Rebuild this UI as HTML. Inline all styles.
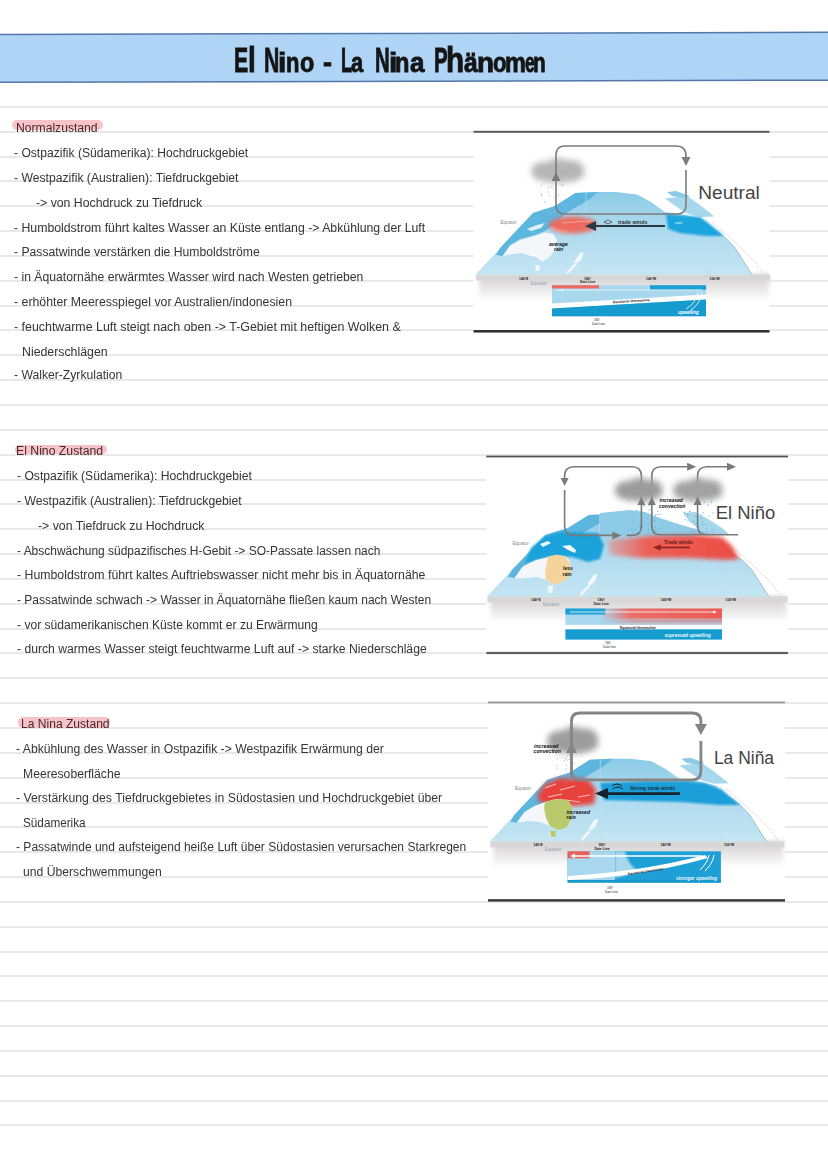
<!DOCTYPE html>
<html><head><meta charset="utf-8"><style>
html,body{margin:0;padding:0}
body{width:828px;height:1171px;position:relative;overflow:hidden;background:#fff;font-family:"Liberation Sans",sans-serif}
.rl{position:absolute;left:0;width:828px;height:2px;background:#e9e9e9}
.t{position:absolute;transform-origin:0 0;font-size:12px;line-height:14px;white-space:pre;color:#353535}
.t .hl{color:#47282b}
.hlb{position:absolute;background:#f6c4c8;border-radius:5px;filter:blur(0.7px)}
#banner{position:absolute;left:0;top:0}
.tg{position:absolute;font-weight:700;line-height:40px;color:#141414;-webkit-text-stroke:0.9px #141414;transform-origin:0 0;white-space:pre}
#title{position:absolute;left:234.2px;top:41.8px;font-weight:700;font-size:35px;line-height:40px;letter-spacing:1.5px;color:#141414;transform-origin:0 0;transform:scaleX(0.619);white-space:pre}
#diag{position:absolute;left:0;top:0}
</style></head><body>
<div class="rl" style="top:105.8px"></div><div class="rl" style="top:130.6px"></div><div class="rl" style="top:155.5px"></div><div class="rl" style="top:180.3px"></div><div class="rl" style="top:205.2px"></div><div class="rl" style="top:230.0px"></div><div class="rl" style="top:254.9px"></div><div class="rl" style="top:279.7px"></div><div class="rl" style="top:304.6px"></div><div class="rl" style="top:329.4px"></div><div class="rl" style="top:354.2px"></div><div class="rl" style="top:379.1px"></div><div class="rl" style="top:403.9px"></div><div class="rl" style="top:428.8px"></div><div class="rl" style="top:453.6px"></div><div class="rl" style="top:478.5px"></div><div class="rl" style="top:503.3px"></div><div class="rl" style="top:528.2px"></div><div class="rl" style="top:553.0px"></div><div class="rl" style="top:577.9px"></div><div class="rl" style="top:602.7px"></div><div class="rl" style="top:627.5px"></div><div class="rl" style="top:652.4px"></div><div class="rl" style="top:677.2px"></div><div class="rl" style="top:702.1px"></div><div class="rl" style="top:726.9px"></div><div class="rl" style="top:751.8px"></div><div class="rl" style="top:776.6px"></div><div class="rl" style="top:801.5px"></div><div class="rl" style="top:826.3px"></div><div class="rl" style="top:851.1px"></div><div class="rl" style="top:876.0px"></div><div class="rl" style="top:900.8px"></div><div class="rl" style="top:925.7px"></div><div class="rl" style="top:950.5px"></div><div class="rl" style="top:975.4px"></div><div class="rl" style="top:1000.2px"></div><div class="rl" style="top:1025.1px"></div><div class="rl" style="top:1049.9px"></div><div class="rl" style="top:1074.8px"></div><div class="rl" style="top:1099.6px"></div><div class="rl" style="top:1124.4px"></div>
<svg id="banner" width="828" height="100" viewBox="0 0 828 100">
<polygon points="0,34.5 828,32.3 828,80.2 0,82.3" fill="#b0d4f5"/>
<line x1="0" y1="34.5" x2="828" y2="32.3" stroke="#5277a8" stroke-width="1.5"/>
<line x1="0" y1="82.3" x2="828" y2="80.2" stroke="#5277a8" stroke-width="1.5"/>
</svg>
<span class="tg" style="left:234.19px;top:40px;font-size:35px;transform:scaleX(0.605)">E</span><span class="tg" style="left:247.65px;top:40px;font-size:35px;transform:scaleX(0.800)">l</span><span class="tg" style="left:263.79px;top:40px;font-size:35px;transform:scaleX(0.605)">N</span><span class="tg" style="left:277.55px;top:42px;font-size:28.5px;transform:scaleX(1.050)">i</span><span class="tg" style="left:286.46px;top:42px;font-size:28.5px;transform:scaleX(0.771)">n</span><span class="tg" style="left:300.18px;top:42px;font-size:28.5px;transform:scaleX(0.820)">o</span><span class="tg" style="left:323.36px;top:42px;font-size:28.5px;transform:scaleX(0.943)">-</span><span class="tg" style="left:340.67px;top:40px;font-size:35px;transform:scaleX(0.517)">L</span><span class="tg" style="left:351.23px;top:42px;font-size:28.5px;transform:scaleX(0.767)">a</span><span class="tg" style="left:374.64px;top:40px;font-size:35px;transform:scaleX(0.581)">N</span><span class="tg" style="left:388.55px;top:42px;font-size:28.5px;transform:scaleX(1.050)">i</span><span class="tg" style="left:395.14px;top:42px;font-size:28.5px;transform:scaleX(0.829)">n</span><span class="tg" style="left:409.69px;top:42px;font-size:28.5px;transform:scaleX(0.913)">a</span><span class="tg" style="left:433.83px;top:40px;font-size:35px;transform:scaleX(0.585)">P</span><span class="tg" style="left:445.81px;top:40px;font-size:35px;transform:scaleX(0.847)">h</span><span class="tg" style="left:463.93px;top:42px;font-size:28.5px;transform:scaleX(0.867)">ä</span><span class="tg" style="left:476.64px;top:42px;font-size:28.5px;transform:scaleX(0.979)">n</span><span class="tg" style="left:493.03px;top:42px;font-size:28.5px;transform:scaleX(0.773)">o</span><span class="tg" style="left:505.15px;top:42px;font-size:28.5px;transform:scaleX(0.823)">m</span><span class="tg" style="left:525.09px;top:42px;font-size:28.5px;transform:scaleX(0.614)">e</span><span class="tg" style="left:532.84px;top:42px;font-size:28.5px;transform:scaleX(0.729)">n</span>
<div class="hlb" style="left:11.7px;top:120.3px;width:91.6px;height:10px"></div>
<div class="hlb" style="left:15px;top:444.6px;width:92.3px;height:9.8px"></div>
<div class="hlb" style="left:17.8px;top:717.2px;width:92.2px;height:10.6px"></div>
<div class="t" style="left:15.6px;top:121.4px;transform:scaleX(1.0113)"><span class="hl">Normalzustand</span></div><div class="t" style="left:14.4px;top:146.3px;transform:scaleX(1.0086)"><span>- Ostpazifik (Südamerika): Hochdruckgebiet</span></div><div class="t" style="left:14.4px;top:171.1px;transform:scaleX(1.0149)"><span>- Westpazifik (Australien): Tiefdruckgebiet</span></div><div class="t" style="left:35.5px;top:195.9px;transform:scaleX(1.0222)"><span>-&gt; von Hochdruck zu Tiefdruck</span></div><div class="t" style="left:14.4px;top:220.8px;transform:scaleX(1.0226)"><span>- Humboldstrom führt kaltes Wasser an Küste entlang -&gt; Abkühlung der Luft</span></div><div class="t" style="left:14.4px;top:245.0px;transform:scaleX(1.0149)"><span>- Passatwinde verstärken die Humboldströme</span></div><div class="t" style="left:14.4px;top:270.4px;transform:scaleX(1.0172)"><span>- in Äquatornähe erwärmtes Wasser wird nach Westen getrieben</span></div><div class="t" style="left:14.4px;top:295.2px;transform:scaleX(1.0267)"><span>- erhöhter Meeresspiegel vor Australien/indonesien</span></div><div class="t" style="left:14.4px;top:320.1px;transform:scaleX(1.0338)"><span>- feuchtwarme Luft steigt nach oben -&gt; T-Gebiet mit heftigen Wolken &amp;</span></div><div class="t" style="left:21.6px;top:344.9px;transform:scaleX(1.0269)"><span>Niederschlägen</span></div><div class="t" style="left:14.4px;top:368.2px;transform:scaleX(1.0133)"><span>- Walker-Zyrkulation</span></div><div class="t" style="left:16.4px;top:444.2px;transform:scaleX(1.0202)"><span class="hl">El Nino Zustand</span></div><div class="t" style="left:16.6px;top:469.1px;transform:scaleX(1.0116)"><span>- Ostpazifik (Südamerika): Hochdruckgebiet</span></div><div class="t" style="left:16.6px;top:493.9px;transform:scaleX(1.0154)"><span>- Westpazifik (Australien): Tiefdruckgebiet</span></div><div class="t" style="left:38.0px;top:518.7px;transform:scaleX(1.0248)"><span>-&gt; von Tiefdruck zu Hochdruck</span></div><div class="t" style="left:16.6px;top:543.5px;transform:scaleX(0.9967)"><span>- Abschwächung südpazifisches H-Gebit -&gt; SO-Passate lassen nach</span></div><div class="t" style="left:16.6px;top:568.4px;transform:scaleX(1.0257)"><span>- Humboldstrom führt kaltes Auftriebswasser nicht mehr bis in Äquatornähe</span></div><div class="t" style="left:16.6px;top:593.2px;transform:scaleX(1.0024)"><span>- Passatwinde schwach -&gt; Wasser in Äquatornähe fließen kaum nach Westen</span></div><div class="t" style="left:16.6px;top:618.0px;transform:scaleX(1.0067)"><span>- vor südamerikanischen Küste kommt er zu Erwärmung</span></div><div class="t" style="left:16.6px;top:642.3px;transform:scaleX(1.0139)"><span>- durch warmes Wasser steigt feuchtwarme Luft auf -&gt; starke Niederschläge</span></div><div class="t" style="left:20.6px;top:717.3px;transform:scaleX(1.0058)"><span class="hl">La Nina Zustand</span></div><div class="t" style="left:15.8px;top:741.7px;transform:scaleX(1.0147)"><span>- Abkühlung des Wasser in Ostpazifik -&gt; Westpazifik Erwärmung der</span></div><div class="t" style="left:22.8px;top:766.6px;transform:scaleX(1.0148)"><span>Meeresoberfläche</span></div><div class="t" style="left:15.8px;top:791.4px;transform:scaleX(1.0206)"><span>- Verstärkung des Tiefdruckgebietes in Südostasien und Hochdruckgebiet über</span></div><div class="t" style="left:22.8px;top:816.2px;transform:scaleX(0.9780)"><span>Südamerika</span></div><div class="t" style="left:15.8px;top:840.3px;transform:scaleX(1.0029)"><span>- Passatwinde und aufsteigend heiße Luft über Südostasien verursachen Starkregen</span></div><div class="t" style="left:22.8px;top:864.7px;transform:scaleX(1.0147)"><span>und Überschwemmungen</span></div>
<svg id="diag" width="828" height="1171" viewBox="0 0 828 1171">
<defs>
<filter id="b05" x="-20%" y="-20%" width="140%" height="140%"><feGaussianBlur stdDeviation="0.5"/></filter>
<filter id="b1" x="-30%" y="-30%" width="160%" height="160%"><feGaussianBlur stdDeviation="1"/></filter>
<filter id="b15" x="-30%" y="-30%" width="160%" height="160%"><feGaussianBlur stdDeviation="1.5"/></filter>
<filter id="b2" x="-40%" y="-40%" width="180%" height="180%"><feGaussianBlur stdDeviation="2"/></filter>
<filter id="b3" x="-50%" y="-50%" width="200%" height="200%"><feGaussianBlur stdDeviation="3"/></filter>
<filter id="b4" x="-50%" y="-50%" width="200%" height="200%"><feGaussianBlur stdDeviation="4"/></filter>
<filter id="b5" x="-60%" y="-60%" width="220%" height="220%"><feGaussianBlur stdDeviation="5"/></filter>
<linearGradient id="ocean" x1="0" y1="0" x2="0" y2="1">
 <stop offset="0" stop-color="#8ccbe7"/><stop offset="0.4" stop-color="#acd9ee"/><stop offset="1" stop-color="#c4e5f3"/>
</linearGradient>
<linearGradient id="shadow" x1="0" y1="0" x2="0" y2="1">
 <stop offset="0" stop-color="#d5d3d4"/><stop offset="0.3" stop-color="#dddbdc"/><stop offset="0.65" stop-color="#efeeee"/><stop offset="1" stop-color="#ffffff"/>
</linearGradient>
<linearGradient id="redR" x1="0" y1="0" x2="1" y2="0">
 <stop offset="0" stop-color="#ef7a70" stop-opacity="0.5"/><stop offset="0.3" stop-color="#ec5f55"/><stop offset="1" stop-color="#ea4d45"/>
</linearGradient>
<linearGradient id="xsRed" x1="0" y1="0" x2="1" y2="0">
 <stop offset="0" stop-color="#ef6a60" stop-opacity="0"/><stop offset="0.25" stop-color="#ef6a60" stop-opacity="0.95"/><stop offset="1" stop-color="#ee5a52"/>
</linearGradient>
<g id="basemap">
 <rect x="479" y="274" width="290" height="27" fill="url(#shadow)" filter="url(#b2)"/>
 <rect x="476" y="274.5" width="294" height="6" fill="#d9d6d7"/>
 <path d="M475.4,274.7 L533,213 L555,206 L575.5,193 L596,192 L616,192 L637,194.5 L651,202 L665,212 L684,215 L702,219 L716,231 L726,238.3 L735,247.6 L752,274.7 Z" fill="url(#ocean)"/>
 <path d="M500,248 L533,213 L555,206 L575.5,193 L598,192 L590,199 L578,206 L566,213 L556,224 L545,231 L535,235 L520,239 L510,245 L502.6,256 L496,255 Z" fill="#5cb6de"/>
 <path d="M502.6,256 L510,246 L520.7,240 L535,236 L545,232.6 L553,233.8 L557,240 L554.5,250.7 L548.5,258 L542.5,261.6 L535.2,256.8 L529,255.5 L522,253 L511,254.3 Z" fill="#f3f7f9"/>
 <path d="M535,265 L540,265.5 L539.5,271 L536,271 Z" fill="#f3f7f9"/>
 <path d="M550,227 L558,225 L566,229 L569,233 L562,232 L555,230 Z" fill="#f7f9fa"/>
 <path d="M527,229 L537,225 L545,223 L541,228 L531,231 Z" fill="#e2f1f8"/>
 <path d="M580,253 L584,252 L581,260 L576,264 L574,262 Z" fill="#f3f7f9"/>
 <path d="M574,264 L577,264 L570,272 L566,275 L568,270 Z" fill="#f3f7f9"/>
 <path d="M716,231 L726,238.3 L735,247.6 L752,274.7" stroke="#8fa9b5" stroke-width="0.7" fill="none"/>
 <path d="M712,222 L735,242 L755,262 L763,273" stroke="#cbbfb5" stroke-width="0.7" fill="none" stroke-dasharray="2 1.5"/>
 <path d="M586,192 L586,275 M707,219 L707,290" stroke="#c2dde9" stroke-width="0.6"/>
 <g fill="#222" font-family="Liberation Sans" font-size="3.4" font-weight="700">
  <text x="519" y="279.5">140°E</text><text x="584" y="279.5">180°</text><text x="580" y="283">Date Line</text><text x="646" y="279.5">140°W</text><text x="709.5" y="279.5">100°W</text>
 </g>
 <text x="530.5" y="284.5" fill="#9aa3a8" font-family="Liberation Sans" font-size="4.6">Equator</text>
 <text x="500.5" y="223.5" fill="#8a8a8a" font-family="Liberation Sans" font-size="4.6">Equator</text>
</g>
<g id="na">
 <path d="M665,198.6 L687,196 L700,205 L714.4,216.4 L700,217 L686,213 L674,205 Z" fill="#a6d7ed"/>
 <path d="M667,192 L676,191 L690,196 L684,198 L672,196 Z" fill="#8ccbe6"/>
</g>
</defs>
<rect x="473.5" y="131" width="296.0" height="201.5" fill="#fff"/>
<use href="#basemap"/>
<use href="#na"/>
<ellipse cx="573" cy="225" rx="24" ry="8.5" fill="#ec6a5f" filter="url(#b2)"/>
<path d="M562,223 L590,221" stroke="#f6a59c" stroke-width="1.2" filter="url(#b05)"/>
<path d="M666,214 L700,217 L712,226 L724,236 L706,236 L680,233 L668,229 Z" fill="#1ea4dc" filter="url(#b1)"/>
<g fill="#9fb8c6">
<circle cx="549.9" cy="212.4" r="0.6"/>
<circle cx="565.7" cy="203.7" r="0.6"/>
<circle cx="560.2" cy="213.3" r="0.6"/>
<circle cx="563.2" cy="184.6" r="0.6"/>
<circle cx="555.6" cy="210.6" r="0.6"/>
<circle cx="541.6" cy="195.4" r="0.6"/>
<circle cx="549.8" cy="195.8" r="0.6"/>
<circle cx="544.3" cy="202.2" r="0.6"/>
<circle cx="565.5" cy="209.4" r="0.6"/>
<circle cx="554.7" cy="211.7" r="0.6"/>
<circle cx="551.7" cy="186.9" r="0.6"/>
<circle cx="554.2" cy="212.9" r="0.6"/>
<circle cx="541.1" cy="194.1" r="0.6"/>
<circle cx="566.6" cy="206.1" r="0.6"/>
<circle cx="554.9" cy="197.2" r="0.6"/>
<circle cx="546.8" cy="210.6" r="0.6"/>
<circle cx="563.4" cy="203.8" r="0.6"/>
<circle cx="550.5" cy="213.3" r="0.6"/>
<circle cx="559.3" cy="213.2" r="0.6"/>
<circle cx="548.2" cy="187.2" r="0.6"/>
<circle cx="548.3" cy="191.9" r="0.6"/>
<circle cx="553.3" cy="189.1" r="0.6"/>
<circle cx="548.5" cy="209.2" r="0.6"/>
<circle cx="561.8" cy="185.4" r="0.6"/>
<circle cx="541.6" cy="185.2" r="0.6"/>
<circle cx="541.1" cy="210.2" r="0.6"/>
<circle cx="558.5" cy="194.9" r="0.6"/>
</g>
<g filter="url(#b3)" opacity="0.9"><ellipse cx="558" cy="173.98" rx="26.4" ry="8.7" fill="#aeaeae"/><ellipse cx="544.8" cy="170.5" rx="13.2" ry="8.7" fill="#aeaeae"/><ellipse cx="570.0" cy="169.34" rx="13.8" ry="9.28" fill="#aeaeae"/><ellipse cx="558" cy="166.44" rx="12.0" ry="8.120000000000001" fill="#aeaeae"/></g>
<path d="M556,206 L556,155 Q556,146 565,146 L676,146 Q686,146 686,156 L686,160" stroke="#7c7c7c" stroke-width="1.6" fill="none"/>
<path d="M686,170 L686,205 Q686,214 677,214 L565,214 Q556,214 556,206" stroke="#7c7c7c" stroke-width="1.6" fill="none"/>
<path d="M681.5,157 L690.5,157 L686,166 Z" fill="#7c7c7c"/>
<path d="M551.5,181 L560.5,181 L556,172 Z" fill="#7c7c7c"/>
<path d="M594,226 L665,226" stroke="#2b3944" stroke-width="1.8"/>
<path d="M596,221.0 L596,231.0 L585,226 Z" fill="#2b3944"/>
<text x="618" y="223.8" font-family="Liberation Sans" font-size="5.3" font-weight="700" fill="#333">trade winds</text>
<path d="M604,222 L608,220 L612,222 L608,224 Z" stroke="#333" stroke-width="0.7" fill="none"/>
<text x="549" y="245.5" font-family="Liberation Sans" font-size="5" font-weight="700" font-style="italic" fill="#111">average</text>
<text x="554" y="251" font-family="Liberation Sans" font-size="5" font-weight="700" font-style="italic" fill="#111">rain</text>
<text x="675" y="224" font-family="Liberation Sans" font-size="3.5" font-weight="700" fill="#bfe6f7">cool</text>
<rect x="552" y="285.2" width="154" height="31.1" fill="#a9d8ee"/>
<rect x="552" y="285.2" width="47" height="3.3" fill="#ec6a62"/>
<rect x="650" y="285.2" width="56" height="4.5" fill="#1f9fd4" filter="url(#b05)"/>
<path d="M552,303.5 L706,294.5 L706,299.5 L552,308.5 Z" fill="#fff"/>
<path d="M552,308.5 L706,299.5 L706,316.3 L552,316.3 Z" fill="#169bcf"/>
<path d="M556,290 L702,290" stroke="#e8f5fb" stroke-width="0.8"/>
<circle cx="562" cy="290" r="1" fill="#fff"/>
<text x="678" y="313.5" font-family="Liberation Sans" font-size="4.5" font-weight="700" font-style="italic" fill="#fff">upwelling</text>
<text x="613" y="303.2" font-family="Liberation Sans" font-size="3.4" font-weight="700" fill="#222" transform="rotate(-3.3 613 303.2)">Equatorial thermocline</text>
<path d="M686,309 Q696,303 698,292 M691,310 Q700,304 702,292" stroke="#e6f4fa" stroke-width="0.9" fill="none"/>
<text x="594" y="321" font-family="Liberation Sans" font-size="3" font-weight="400" fill="#222">180°</text>
<text x="592" y="324.5" font-family="Liberation Sans" font-size="3" font-weight="400" fill="#222">Date Line</text>
<text x="698.3" y="198.6" font-family="Liberation Sans" font-size="18.3" font-weight="400" fill="#444" textLength="61.5" lengthAdjust="spacingAndGlyphs">Neutral</text>
<rect x="473.5" y="130.8" width="296.0" height="2" fill="#5a5a5a"/>
<rect x="473.5" y="330.05" width="296.0" height="2.5" fill="#2e2e2e"/>
<rect x="486.3" y="455.5" width="301.7" height="198.10000000000002" fill="#fff"/>
<use href="#basemap" transform="translate(1.892,321.9) scale(1.02,1)"/>
<path d="M600,513 L630,510 L645,512 L660,518 L675,523 L690,527.5 L705,531 L718,535 L600,536 Z" fill="#8ecbe7"/>
<path d="M683,513 L695,512 L708,519 L722,528 L730,535 L712,535 L700,530 L690,522 Z" fill="#a4d6ec"/>
<path d="M531,548 L545,536 L560,532 L598,533 L604,545 L600,559 L588,562 L572,557 L548,556 L533,561 L525,563 Z" fill="#1ea2da" filter="url(#b1)"/>
<path d="M540,544 L548,541 L551,543 L543,547 Z M562,546 L570,545 L576,550 L575,553 L568,550 Z" fill="#f4f9fb"/>
<path d="M608,540 L650,536 L700,535 L722,537 L732,546 L739,559 L725,560 L690,558 L640,558 L610,555 Z" fill="url(#redR)" filter="url(#b2)"/>
<path d="M514.5,578.3 L524,566 L536,560 L548.3,557.2 L556.8,554.8 L565.2,556.6 L570,563.8 L571.3,571 L567.6,578.3 L560.4,583.1 L553,584.3 L545.9,579.5 L536.2,577.1 L524.2,578.3 Z" fill="#f4f7f9"/>
<path d="M548,557 L556.8,554.8 L565.2,556.6 L570,563.8 L571.3,571 L567.6,578.3 L560.4,583.1 L553,584.3 L546,579.5 L545,570 L547,562 Z" fill="#f5d49c"/>
<path d="M548.3,586 L553,585.6 L552,592.5 L549,592 Z" fill="#f4f7f9"/>
<g fill="#6fa9c8">
<circle cx="652.5" cy="512.5" r="0.6"/>
<circle cx="653.7" cy="504.2" r="0.6"/>
<circle cx="660.0" cy="514.5" r="0.6"/>
<circle cx="653.6" cy="533.2" r="0.6"/>
<circle cx="650.9" cy="515.2" r="0.6"/>
<circle cx="631.7" cy="529.7" r="0.6"/>
<circle cx="652.2" cy="532.0" r="0.6"/>
<circle cx="647.4" cy="518.8" r="0.6"/>
<circle cx="635.6" cy="529.4" r="0.6"/>
<circle cx="632.8" cy="531.8" r="0.6"/>
<circle cx="639.9" cy="527.6" r="0.6"/>
<circle cx="632.7" cy="524.0" r="0.6"/>
<circle cx="642.2" cy="504.3" r="0.6"/>
<circle cx="628.3" cy="512.2" r="0.6"/>
<circle cx="655.6" cy="526.7" r="0.6"/>
<circle cx="655.5" cy="514.9" r="0.6"/>
<circle cx="631.7" cy="527.9" r="0.6"/>
<circle cx="649.3" cy="510.3" r="0.6"/>
<circle cx="650.2" cy="523.1" r="0.6"/>
<circle cx="644.8" cy="500.4" r="0.6"/>
<circle cx="654.7" cy="521.1" r="0.6"/>
<circle cx="636.4" cy="510.4" r="0.6"/>
<circle cx="655.6" cy="530.4" r="0.6"/>
<circle cx="648.7" cy="529.4" r="0.6"/>
<circle cx="649.7" cy="505.0" r="0.6"/>
<circle cx="628.4" cy="529.6" r="0.6"/>
<circle cx="659.3" cy="528.7" r="0.6"/>
<circle cx="654.5" cy="520.3" r="0.6"/>
<circle cx="648.0" cy="502.4" r="0.6"/>
<circle cx="657.3" cy="514.6" r="0.6"/>
<circle cx="644.1" cy="505.9" r="0.6"/>
<circle cx="653.4" cy="504.5" r="0.6"/>
<circle cx="654.7" cy="532.0" r="0.6"/>
<circle cx="645.8" cy="500.6" r="0.6"/>
<circle cx="661.8" cy="521.6" r="0.6"/>
<circle cx="640.6" cy="528.8" r="0.6"/>
<circle cx="632.8" cy="513.0" r="0.6"/>
<circle cx="632.1" cy="520.8" r="0.6"/>
<circle cx="657.8" cy="511.3" r="0.6"/>
<circle cx="628.4" cy="500.5" r="0.6"/>
<circle cx="648.9" cy="533.1" r="0.6"/>
</g>
<g fill="#6fa9c8">
<circle cx="705.7" cy="524.7" r="0.6"/>
<circle cx="702.7" cy="524.4" r="0.6"/>
<circle cx="688.0" cy="514.7" r="0.6"/>
<circle cx="706.4" cy="528.3" r="0.6"/>
<circle cx="689.7" cy="511.6" r="0.6"/>
<circle cx="701.8" cy="518.6" r="0.6"/>
<circle cx="693.5" cy="521.0" r="0.6"/>
<circle cx="709.2" cy="516.2" r="0.6"/>
<circle cx="703.1" cy="512.7" r="0.6"/>
<circle cx="712.4" cy="530.2" r="0.6"/>
<circle cx="713.0" cy="512.8" r="0.6"/>
<circle cx="684.4" cy="512.4" r="0.6"/>
<circle cx="697.2" cy="502.2" r="0.6"/>
<circle cx="702.8" cy="521.8" r="0.6"/>
<circle cx="694.3" cy="504.0" r="0.6"/>
<circle cx="699.5" cy="503.3" r="0.6"/>
<circle cx="704.2" cy="502.4" r="0.6"/>
<circle cx="706.5" cy="531.1" r="0.6"/>
<circle cx="691.5" cy="500.8" r="0.6"/>
<circle cx="690.2" cy="511.5" r="0.6"/>
<circle cx="701.1" cy="515.0" r="0.6"/>
<circle cx="692.2" cy="531.6" r="0.6"/>
<circle cx="712.0" cy="500.7" r="0.6"/>
<circle cx="700.0" cy="501.1" r="0.6"/>
<circle cx="697.2" cy="504.8" r="0.6"/>
<circle cx="695.9" cy="523.3" r="0.6"/>
<circle cx="698.1" cy="500.2" r="0.6"/>
<circle cx="687.3" cy="514.7" r="0.6"/>
<circle cx="708.3" cy="504.9" r="0.6"/>
<circle cx="690.6" cy="532.2" r="0.6"/>
<circle cx="695.9" cy="515.9" r="0.6"/>
<circle cx="685.1" cy="519.5" r="0.6"/>
<circle cx="687.9" cy="521.0" r="0.6"/>
<circle cx="684.1" cy="504.8" r="0.6"/>
<circle cx="711.4" cy="502.3" r="0.6"/>
<circle cx="695.4" cy="531.8" r="0.6"/>
</g>
<path d="M641.4,528 L641.4,476 Q641.4,466.7 632,466.7 L574,466.7 Q564.6,466.7 564.6,476 L564.6,479" stroke="#7a7a7a" stroke-width="1.6" fill="none"/>
<path d="M560.6,478 L568.6,478 L564.6,486 Z" fill="#7a7a7a"/>
<path d="M564.6,490 L564.6,526 Q564.6,535.4 574,535.4 L613,535.4" stroke="#7a7a7a" stroke-width="1.6" fill="none"/>
<path d="M612.4,531.4 L612.4,539.4 L621.4,535.4 Z" fill="#7a7a7a"/>
<path d="M626.7,535.4 L632,535.4 Q641.4,535.4 641.4,526" stroke="#7a7a7a" stroke-width="1.6" fill="none"/>
<path d="M651.8,528 L651.8,476 Q651.8,466.8 661,466.8 L688,466.8" stroke="#7a7a7a" stroke-width="1.6" fill="none"/>
<path d="M687.2,462.8 L687.2,470.8 L696.2,466.8 Z" fill="#7a7a7a"/>
<path d="M697.6,528 L697.6,476 Q697.6,466.8 707,466.8 L728,466.8" stroke="#7a7a7a" stroke-width="1.6" fill="none"/>
<path d="M727,462.8 L727,470.8 L736,466.8 Z" fill="#7a7a7a"/>
<path d="M651.8,526 Q651.8,534.7 660,534.7 L738,534.7 M697.6,526 Q697.6,534.7 706,534.7" stroke="#7a7a7a" stroke-width="1.6" fill="none"/>
<g filter="url(#b3)" opacity="1"><ellipse cx="639" cy="492.86" rx="23.76" ry="8.4" fill="#9c9c9c"/><ellipse cx="627.12" cy="489.5" rx="11.88" ry="8.4" fill="#9c9c9c"/><ellipse cx="649.8" cy="488.38" rx="12.42" ry="8.96" fill="#9c9c9c"/><ellipse cx="639" cy="485.58" rx="10.8" ry="7.840000000000001" fill="#9c9c9c"/></g>
<g filter="url(#b3)" opacity="1"><ellipse cx="698" cy="492.86" rx="24.64" ry="8.4" fill="#a2a2a2"/><ellipse cx="685.68" cy="489.5" rx="12.32" ry="8.4" fill="#a2a2a2"/><ellipse cx="709.2" cy="488.38" rx="12.88" ry="8.96" fill="#a2a2a2"/><ellipse cx="698" cy="485.58" rx="11.200000000000001" ry="7.840000000000001" fill="#a2a2a2"/></g>
<path d="M637.4,505 L645.4,505 L641.4,497 Z" fill="#7a7a7a"/>
<path d="M647.8,505 L655.8,505 L651.8,497 Z" fill="#7a7a7a"/>
<path d="M693.6,505 L701.6,505 L697.6,497 Z" fill="#7a7a7a"/>
<path d="M660,547.5 L690,547.5" stroke="#8e2323" stroke-width="1.6"/>
<path d="M660.7,544.5 L660.7,550.5 L652.7,547.5 Z" fill="#8e2323"/>
<text x="664" y="544" font-family="Liberation Sans" font-size="5" font-weight="700" fill="#6a1a1a">Trade winds</text>
<text x="659.5" y="501.5" font-family="Liberation Sans" font-size="5" font-weight="700" font-style="italic" fill="#111">increased</text>
<text x="659" y="507.8" font-family="Liberation Sans" font-size="5" font-weight="700" font-style="italic" fill="#111">convection</text>
<text x="563" y="570" font-family="Liberation Sans" font-size="5" font-weight="700" fill="#111">less</text>
<text x="562.5" y="575.5" font-family="Liberation Sans" font-size="5" font-weight="700" fill="#111">rain</text>
<rect x="565.4" y="608.5" width="156.6" height="16.3" fill="#a9d8ee"/>
<rect x="565.4" y="608.5" width="40" height="6" fill="#1ea2d8" filter="url(#b05)"/>
<rect x="600" y="608.5" width="122" height="10" fill="url(#xsRed)"/>
<rect x="600" y="618.5" width="122" height="4" fill="url(#xsRed)" opacity="0.5"/>
<rect x="600" y="622.5" width="122" height="2.3" fill="url(#xsRed)" opacity="0.2"/>
<path d="M570,612 L714,612" stroke="#f4fbff" stroke-width="0.8"/>
<path d="M713,610.5 L713,613.5 L717,612 Z" fill="#f4fbff"/>
<rect x="565.4" y="629.3" width="156.6" height="10.3" fill="#169ccf"/>
<text x="620" y="628.6" font-family="Liberation Sans" font-size="3.3" font-weight="700" fill="#222">Equatorial thermocline</text>
<text x="664.5" y="637" font-family="Liberation Sans" font-size="4.7" font-weight="700" font-style="italic" fill="#e8f6fc">supressed upwelling</text>
<text x="605" y="644" font-family="Liberation Sans" font-size="3" font-weight="400" fill="#222">180°</text>
<text x="603" y="647.5" font-family="Liberation Sans" font-size="3" font-weight="400" fill="#222">Date Line</text>
<text x="715.7" y="519" font-family="Liberation Sans" font-size="18.3" font-weight="400" fill="#444" textLength="59.5" lengthAdjust="spacingAndGlyphs">El Niño</text>
<rect x="486.3" y="455.6" width="301.7" height="1.8" fill="#505050"/>
<rect x="486.3" y="651.9" width="301.7" height="2.2" fill="#5e5e5e"/>
<rect x="488" y="701.5" width="297" height="200.20000000000005" fill="#fff"/>
<use href="#basemap" transform="translate(14.4,566.8)"/>
<use href="#na" transform="translate(14.4,566.8)"/>
<path d="M600,783 L650,781 L686,781 L705,783 L722,790 L740,805 L720,805 L680,802 L640,801 L604,800 Z" fill="#1d9fd8" filter="url(#b1)"/>
<path d="M538,794 L545,784 L560,778 L588,779 L596,790 L594,804 L575,806 L552,805 L538,801 Z" fill="#e8433c" filter="url(#b2)"/>
<path d="M545,788 L556,784 M560,790 L575,786 M548,797 L562,794 M578,797 L590,795 M566,800 L580,802" stroke="#f4b8b4" stroke-width="1.2" filter="url(#b05)"/>
<path d="M517,822 L525,812 L535,806 L545,802 L556,799 L568,800 L572.6,808 L571,820 L566,828 L558,830 L550,826 L540,822 L528,821 Z" fill="#f4f7f9"/>
<path d="M545,802 L556,799 L568,800 L572.6,808 L571,820 L566,828 L558,830 L550,826 L546,818 L544,808 Z" fill="#b9c96b"/>
<path d="M550,831 L556,831 L555,837 L551,837 Z" fill="#b9c96b"/>
<g fill="#9fb8c6">
<circle cx="556.8" cy="768.9" r="0.6"/>
<circle cx="562.4" cy="776.8" r="0.6"/>
<circle cx="556.9" cy="765.9" r="0.6"/>
<circle cx="570.5" cy="755.8" r="0.6"/>
<circle cx="569.6" cy="778.9" r="0.6"/>
<circle cx="569.3" cy="759.4" r="0.6"/>
<circle cx="566.3" cy="769.2" r="0.6"/>
<circle cx="579.3" cy="766.5" r="0.6"/>
<circle cx="574.2" cy="779.4" r="0.6"/>
<circle cx="577.5" cy="780.1" r="0.6"/>
<circle cx="569.1" cy="754.4" r="0.6"/>
<circle cx="557.0" cy="758.7" r="0.6"/>
<circle cx="564.4" cy="775.3" r="0.6"/>
<circle cx="573.8" cy="763.2" r="0.6"/>
<circle cx="572.0" cy="780.6" r="0.6"/>
<circle cx="571.0" cy="752.0" r="0.6"/>
<circle cx="567.5" cy="760.1" r="0.6"/>
<circle cx="574.0" cy="751.5" r="0.6"/>
<circle cx="565.2" cy="758.2" r="0.6"/>
<circle cx="567.7" cy="756.1" r="0.6"/>
<circle cx="566.6" cy="781.7" r="0.6"/>
<circle cx="573.4" cy="776.3" r="0.6"/>
<circle cx="566.5" cy="764.9" r="0.6"/>
<circle cx="580.3" cy="752.1" r="0.6"/>
<circle cx="562.0" cy="757.6" r="0.6"/>
<circle cx="570.4" cy="755.9" r="0.6"/>
<circle cx="564.1" cy="761.2" r="0.6"/>
<circle cx="557.1" cy="778.6" r="0.6"/>
<circle cx="565.8" cy="758.7" r="0.6"/>
</g>
<g filter="url(#b3)" opacity="0.85"><ellipse cx="573" cy="743.84" rx="25.52" ry="9.6" fill="#8c8c8c"/><ellipse cx="560.24" cy="740" rx="12.76" ry="9.6" fill="#8c8c8c"/><ellipse cx="584.6" cy="738.72" rx="13.34" ry="10.24" fill="#8c8c8c"/><ellipse cx="573" cy="735.52" rx="11.600000000000001" ry="8.96" fill="#8c8c8c"/></g>
<path d="M571.5,776 L571.5,721 Q571.5,713 580,713 L692,713 Q700.9,713 700.9,721 L700.9,727" stroke="#858585" stroke-width="2.8" fill="none"/>
<path d="M694.9,724 L706.9,724 L700.9,735 Z" fill="#858585"/>
<path d="M700.9,741 L700.9,771 Q700.9,779.9 692,779.9 L580,779.9 Q571.5,779.9 571.5,771" stroke="#858585" stroke-width="2.8" fill="none"/>
<path d="M566.0,753 L577.0,753 L571.5,742 Z" fill="#858585"/>
<path d="M606,793.6 L680,793.6" stroke="#16222d" stroke-width="2.8"/>
<path d="M608,788.1 L608,799.1 L595,793.6 Z" fill="#16222d"/>
<text x="630" y="790" font-family="Liberation Sans" font-size="5" font-weight="700" fill="#153048">Strong trade winds</text>
<path d="M612,786 Q617,782 622,786 M613,789 Q618,785 623,789" stroke="#16222d" stroke-width="1" fill="none"/>
<text x="534" y="747.8" font-family="Liberation Sans" font-size="5.2" font-weight="700" font-style="italic" fill="#111">increased</text>
<text x="533.5" y="753.3" font-family="Liberation Sans" font-size="5.2" font-weight="700" font-style="italic" fill="#111">convection</text>
<text x="566.6" y="813.5" font-family="Liberation Sans" font-size="5" font-weight="700" font-style="italic" fill="#111">increased</text>
<text x="566.6" y="819" font-family="Liberation Sans" font-size="5" font-weight="700" font-style="italic" fill="#111">rain</text>
<rect x="567.6" y="851.3" width="153.3" height="31.3" fill="#1e9fd6"/>
<path d="M567.6,851.3 L615,851.3 L615,882.6 L567.6,882.6 Z" fill="#a9d8ee"/>
<path d="M615,851.3 L625,851.3 Q628,866 640,872 L615,878 Z" fill="#a9d8ee" filter="url(#b1)"/>
<rect x="567.6" y="851.3" width="22" height="7" fill="#ec5f58" filter="url(#b05)"/>
<path d="M567.6,876 Q640,872 705,855 L708,858 Q640,877 567.6,880 Z" fill="#fff"/>
<path d="M575,856 L702,856" stroke="#fff" stroke-width="1.3"/>
<path d="M575,853.5 L575,858.5 L570,856 Z" fill="#fff"/>
<path d="M700,870 Q708,862 709,855 M705,871 Q713,863 714,855" stroke="#fff" stroke-width="1" fill="none"/>
<rect x="567.6" y="880" width="153.3" height="2.6" fill="#1898cc"/>
<text x="676" y="880" font-family="Liberation Sans" font-size="4.6" font-weight="700" font-style="italic" fill="#e8f6fc">stronger upwelling</text>
<text x="628" y="875" font-family="Liberation Sans" font-size="3.3" font-weight="700" fill="#222" transform="rotate(-8 628 875)">Equatorial thermocline</text>
<text x="607" y="889" font-family="Liberation Sans" font-size="3" font-weight="400" fill="#222">180°</text>
<text x="605" y="892.5" font-family="Liberation Sans" font-size="3" font-weight="400" fill="#222">Date Line</text>
<text x="713.9" y="763.5" font-family="Liberation Sans" font-size="18.3" font-weight="400" fill="#444" textLength="60.2" lengthAdjust="spacingAndGlyphs">La Niña</text>
<rect x="488" y="701.5" width="297" height="2" fill="#9a9a9a"/>
<rect x="488" y="899.15" width="297" height="2.5" fill="#3a3a3a"/>
</svg>
</body></html>
